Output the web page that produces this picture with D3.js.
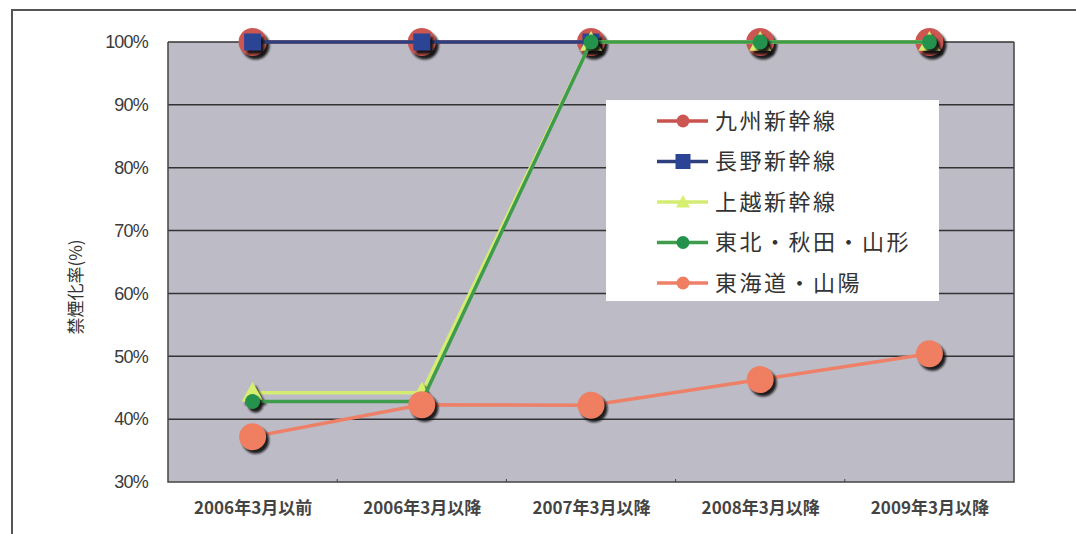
<!DOCTYPE html>
<html><head><meta charset="utf-8">
<script src="https://cdn.jsdelivr.net/npm/d3@7"></script>
<style>
body{margin:0;background:#fff;}
svg{display:block;}
</style></head>
<body>
<svg id="c" width="1076" height="534"></svg>
<script>
const categories = ["2006年3月以前","2006年3月以降","2007年3月以降","2008年3月以降","2009年3月以降"];
const yTicks = [30,40,50,60,70,80,90,100];
const seriesNames = ["九州新幹線","長野新幹線","上越新幹線","東北・秋田・山形","東海道・山陽"];
const kyushu  = [100,100,100,100,100];
const nagano  = [100,100,100,null,null];
const joetsu  = [44.2,44.2,100,100,100];
const tohoku  = [42.8,42.8,100,100,100];
const tokaido = [37.2,42.3,42.2,46.3,50.4];
const yTitle = "禁煙化率(%)";

const series = [
  {name:seriesNames[0], values:kyushu,  color:"#cc5752", line:"#c8524e", shape:"circle", r:14},
  {name:seriesNames[1], values:nagano,  color:"#2b4594", line:"#2e3f7e", shape:"square", r:8.5},
  {name:seriesNames[2], values:joetsu,  color:"#d7ef6e", line:"#d4ec74", shape:"triangle", r:11},
  {name:seriesNames[3], values:tohoku,  color:"#24924c", line:"#3f9c4c", shape:"circle", r:7.5},
  {name:seriesNames[4], values:tokaido, color:"#f07f62", line:"#ee8067", shape:"circle", r:13.5}
];

const svg = d3.select("#c");
const defs = svg.append("defs");
defs.append("filter").attr("id","blur").append("feGaussianBlur").attr("stdDeviation",1.2);

svg.append("path").attr("d","M12,534 L12,10 L1076,10").attr("fill","none").attr("stroke","#555").attr("stroke-width",2);

const L=168,R=1014,T=42,B=482;
const x = d3.scalePoint().domain(categories).range([L,R]).padding(0.5);
const xb = d3.scaleBand().domain(categories).range([L,R]);
const y = d3.scaleLinear().domain([30,100]).range([B,T]);

svg.append("rect").attr("x",L).attr("y",T).attr("width",R-L).attr("height",B-T).attr("fill","#bcbbc6");

const yAxis = d3.axisLeft(y).tickValues(yTicks).tickFormat(d=>d+"%").tickSize(0).tickPadding(20);
const gy = svg.append("g").attr("transform",`translate(${L},0)`).call(yAxis);
gy.select(".domain").remove();
gy.selectAll("text").attr("font-family","Liberation Sans, Arial, sans-serif").attr("font-size",18).attr("fill","#3a3a3a").attr("letter-spacing","-0.8px");
svg.append("g").selectAll("line").data(yTicks.filter(d=>d>30)).join("line")
  .attr("x1",L).attr("x2",R).attr("y1",d=>y(d)).attr("y2",d=>y(d)).attr("stroke","#333").attr("stroke-width",1.5);

svg.append("path").attr("d",`M${L},${T} L${L},${B} L${R},${B} L${R},${T}`).attr("fill","none").attr("stroke","#444").attr("stroke-width",1.5);

const xAxis = d3.axisBottom(x).tickSize(0).tickPadding(20);
const gx = svg.append("g").attr("transform",`translate(0,${B})`).call(xAxis);
gx.select(".domain").remove();
gx.selectAll("text").attr("font-family","Noto Sans CJK JP, sans-serif").attr("font-size",17).attr("font-weight","bold").attr("fill","#444");
svg.append("g").selectAll("line").data(categories.slice(1)).join("line")
  .attr("x1",d=>xb(d)).attr("x2",d=>xb(d)).attr("y1",B).attr("y2",B-3).attr("stroke","#444");

svg.append("text").attr("transform","translate(82,287) rotate(-90)").attr("text-anchor","middle")
  .attr("font-family","Noto Sans CJK JP, sans-serif").attr("font-size",17).attr("fill","#333").text(yTitle);

function marker(g, s, cx, cy, shadow){
  let el;
  if(s.shape==="circle"){
    el = g.append("circle").attr("cx",cx).attr("cy",cy).attr("r",s.r);
  } else if(s.shape==="square"){
    el = g.append("rect").attr("x",cx-s.r).attr("y",cy-s.r).attr("width",2*s.r).attr("height",2*s.r);
  } else {
    const r=s.r;
    el = g.append("path").attr("d",`M${cx},${cy-r} L${cx+r},${cy+r*0.8} L${cx-r},${cy+r*0.8} Z`);
  }
  if(shadow){ el.attr("fill","#111").attr("opacity",0.9).attr("transform","translate(3,3.5)").attr("filter","url(#blur)"); }
  else el.attr("fill",s.color);
  return el;
}

const line = d3.line().defined(d=>d!=null).x((d,i)=>x(categories[i])).y(d=>y(d));
series.forEach(s=>{
  const g = svg.append("g");
  g.append("path").attr("d",line(s.values)).attr("fill","none").attr("stroke",s.line).attr("stroke-width",3.5);
  const pts = s.values.map((v,i)=>[i,v]).filter(p=>p[1]!=null);
  pts.forEach(p=>marker(g,s,x(categories[p[0]]),y(p[1]),true));
  pts.forEach(p=>marker(g,s,x(categories[p[0]]),y(p[1]),false));
});

const lg = svg.append("g");
lg.append("rect").attr("x",606).attr("y",100).attr("width",333).attr("height",201).attr("fill","#fff");
series.forEach((s,i)=>{
  const cy = 121 + i*40.5;
  lg.append("line").attr("x1",657).attr("x2",708).attr("y1",cy).attr("y2",cy).attr("stroke",s.line).attr("stroke-width",3.5);
  const ms = Object.assign({}, s, {r: s.shape==="square"?7.5: s.shape==="triangle"?7:6.5});
  marker(lg, ms, 683, cy, false);
  lg.append("text").attr("x",715).attr("y",cy).attr("dy","0.36em").attr("font-family","Noto Sans CJK JP, sans-serif")
    .attr("font-size",22).attr("letter-spacing","2.5px").attr("fill","#333").text(s.name);
});
</script>
</body></html>
